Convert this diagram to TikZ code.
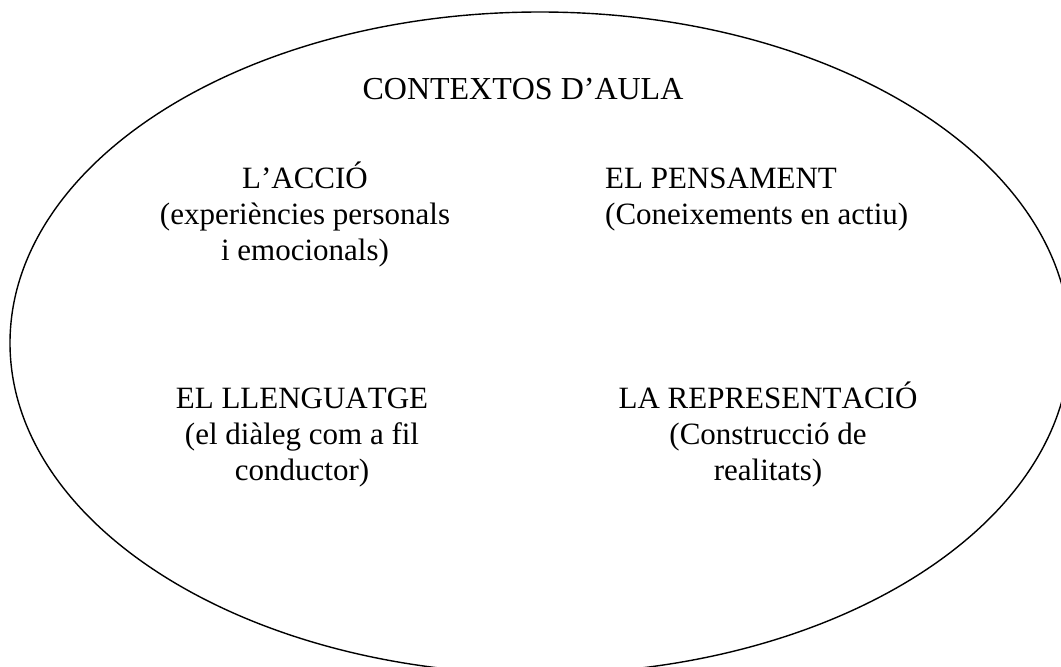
\documentclass[tikz,border=0pt]{standalone}
\usepackage{fontspec}
\setmainfont{Liberation Serif}[Kerning=Off]
\setlength{\lineskiplimit}{-100pt}
\setlength{\lineskip}{0pt}
\begin{document}
\begin{tikzpicture}[x=1pt,y=-1pt,
  txtfont/.style={font=\fontsize{31}{36}\selectfont},
  lbl/.style={inner sep=0pt, anchor=base, txtfont, align=center},
  lbll/.style={inner sep=0pt, anchor=base west, txtfont, align=left},
  outline/.style={line width=1.4pt, draw=black}]
\useasboundingbox (0,0) rectangle (1061,667);
\fill[white] (0,0) rectangle (1061,667);
\begin{scope}
\clip (0,0) rectangle (1061,667);
\draw[outline] (540,343) ellipse [x radius=530, y radius=331];
\end{scope}
\node[lbl, font=\fontsize{32}{36}\selectfont] (title) at (523,99.5) {CONTEXTOS D’AULA};
\node[lbl] (accio) at (305,260) {L’ACCIÓ\\(experiències personals\\i emocionals)};
\node[lbll] (pensament) at (605,224) {EL PENSAMENT\\(Coneixements en actiu)};
\node[lbl] (llenguatge) at (302,480.5) {EL LLENGUATGE\\(el diàleg com a fil\\conductor)};
\node[lbl] (representacio) at (768,480.5) {LA REPRESENTACIÓ\\(Construcció de\\realitats)};
\end{tikzpicture}
\end{document}
